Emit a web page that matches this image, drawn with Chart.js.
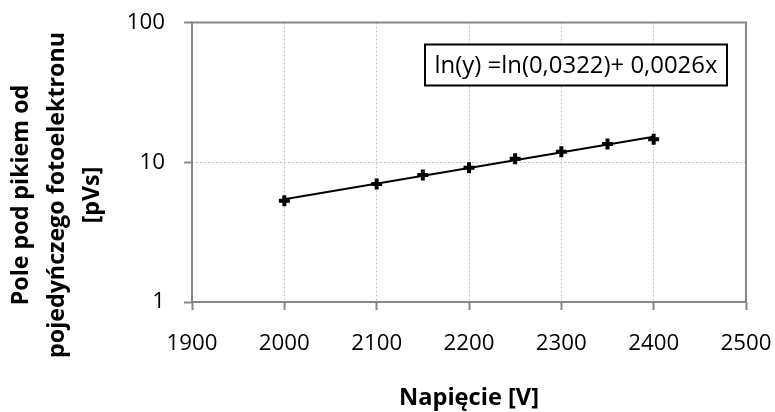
<!DOCTYPE html>
<html>
<head>
<meta charset="utf-8">
<script src="https://cdn.jsdelivr.net/npm/chart.js@4/dist/chart.umd.min.js"></script>
<style>
  html, body { margin: 0; padding: 0; background: #fff; }
  #wrap { width: 775px; height: 412px; position: relative; }
</style>
</head>
<body>
<div id="wrap"><canvas id="chart"></canvas></div>
<script>
const voltages = [2000, 2100, 2150, 2200, 2250, 2300, 2350, 2400];
const areas = [5.3, 7.0, 8.1, 9.15, 10.6, 11.9, 13.5, 14.6];
const xTicks = [1900, 2000, 2100, 2200, 2300, 2400, 2500];
const yTicks = [1, 10, 100];
const fitLabel = "ln(y) =ln(0,0322)+ 0,0026x";
const xTitle = "Napięcie [V]";
const yTitle = ["Pole pod pikiem od", "pojedyńczego fotoelektronu", "[pVs]"];

const FONT = "'Open Sans'";

// pick a font size so that a text gets the width it has in the original (Calibri)
function sizeFor(text, weight, width) {
  const c = document.createElement("canvas").getContext("2d");
  c.font = `${weight} 100px ${FONT}`;
  return 100 * width / c.measureText(text).width;
}

const tickSize = sizeFor("2200", "normal", 51);
const xTitleSize = sizeFor(xTitle, "bold", 140);
const yTitleSize = sizeFor(yTitle[1], "bold", 326);
const eqSize = sizeFor(fitLabel, "normal", 283);

// exponential trendline, least squares on ln(y)
function expFit(xs, ys) {
  const n = xs.length;
  const ly = ys.map(v => Math.log(v));
  const mx = xs.reduce((a, b) => a + b, 0) / n;
  const my = ly.reduce((a, b) => a + b, 0) / n;
  let sxy = 0, sxx = 0;
  xs.forEach((x, i) => {
    sxy += (x - mx) * (ly[i] - my);
    sxx += (x - mx) * (x - mx);
  });
  const b = sxy / sxx;
  const a = my - b * mx;
  return x => Math.exp(a + b * x);
}

const fit = expFit(voltages, areas);
const xMin = Math.min(...voltages);
const xMax = Math.max(...voltages);
const trend = [{ x: xMin, y: fit(xMin) }, { x: xMax, y: fit(xMax) }];
const points = voltages.map((v, i) => ({ x: v, y: areas[i] }));

const extras = {
  id: "extras",
  beforeDatasetsDraw(chart) {
    const { ctx, chartArea: a } = chart;
    ctx.save();
    ctx.strokeStyle = "#878787";
    ctx.lineWidth = 2;
    ctx.strokeRect(a.left, a.top, a.right - a.left, a.bottom - a.top);
    ctx.restore();
  },
  afterDatasetsDraw(chart) {
    const { ctx, chartArea: a } = chart;
    // equation box
    const right = a.right - 19;
    const left = right - 302;
    const top = a.top + 22;
    const h = 41;
    ctx.save();
    ctx.fillStyle = "#fff";
    ctx.fillRect(left, top, right - left, h);
    ctx.strokeStyle = "#000";
    ctx.lineWidth = 2;
    ctx.strokeRect(left, top, right - left, h);
    ctx.fillStyle = "#000";
    ctx.font = `${eqSize}px ${FONT}`;
    ctx.textBaseline = "middle";
    ctx.textAlign = "center";
    ctx.fillText(fitLabel, (left + right) / 2, top + h / 2 + 1);

    // y axis title, three centred lines
    const cols = [21, 57, 92];
    ctx.font = `bold ${yTitleSize}px ${FONT}`;
    ctx.translate(0, 195);
    ctx.rotate(-Math.PI / 2);
    yTitle.forEach((line, i) => ctx.fillText(line, 0, cols[i]));
    ctx.restore();
  }
};

const gridOpts = {
  color: "#c4c4c4",
  lineWidth: 1,
  tickLength: 8,
  tickColor: "#878787",
  tickWidth: 2,
  tickBorderDash: []
};

new Chart(document.getElementById("chart"), {
  type: "scatter",
  data: {
    datasets: [
      {
        label: "trend",
        data: trend,
        showLine: true,
        borderColor: "#000",
        borderWidth: 2,
        pointRadius: 0
      },
      {
        label: "dane",
        data: points,
        pointStyle: "cross",
        pointRadius: 5.5,
        borderWidth: 4,
        borderColor: "#000",
        backgroundColor: "#000"
      }
    ]
  },
  options: {
    responsive: true,
    maintainAspectRatio: false,
    animation: false,
    layout: { padding: { top: 22.5, right: 29, bottom: 0, left: 0 } },
    plugins: { legend: { display: false }, tooltip: { enabled: false } },
    scales: {
      x: {
        type: "linear",
        min: 1900,
        max: 2500,
        afterBuildTicks: axis => { axis.ticks = xTicks.map(v => ({ value: v })); },
        afterFit: axis => {
          axis.height = 110;
          axis.paddingLeft = 0;
          axis.paddingRight = 0;
        },
        grid: gridOpts,
        border: { display: false, dash: [2, 2] },
        ticks: {
          color: "#000",
          font: { family: FONT, size: tickSize, lineHeight: 1.2 },
          padding: 20,
          maxRotation: 0,
          autoSkip: false,
          callback: v => String(v)
        },
        title: {
          display: true,
          text: xTitle,
          color: "#000",
          font: { family: FONT, size: xTitleSize, weight: "bold", lineHeight: 1.2 },
          padding: { top: 0, bottom: 0 }
        }
      },
      y: {
        type: "logarithmic",
        min: 1,
        max: 100,
        afterBuildTicks: axis => { axis.ticks = yTicks.map(v => ({ value: v })); },
        afterFit: axis => {
          axis.width = 192;
          axis.paddingTop = 0;
          axis.paddingBottom = 0;
        },
        grid: gridOpts,
        border: { display: false, dash: [2, 2] },
        ticks: {
          color: "#000",
          font: { family: FONT, size: tickSize, lineHeight: 1.2 },
          padding: 19,
          callback: v => String(v)
        },
        title: { display: false }
      }
    }
  },
  plugins: [extras]
});
</script>
</body>
</html>
